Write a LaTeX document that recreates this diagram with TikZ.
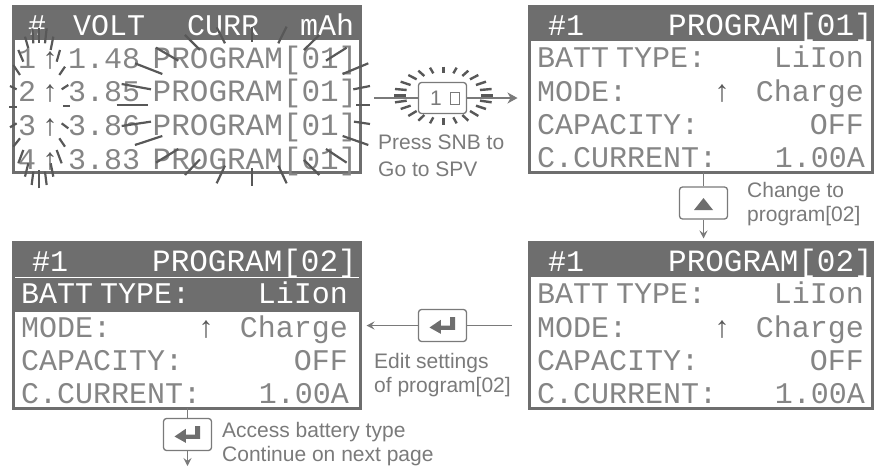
\documentclass[tikz,border=0pt]{standalone}
\usepackage{fontspec}
\setmainfont{Liberation Sans}
\newfontfamily\lcdfont{Liberation Mono}
\usetikzlibrary{arrows.meta}
\definecolor{lcddark}{HTML}{6E6E6E}
\definecolor{lcdtext}{HTML}{858585}
\definecolor{raygray}{HTML}{585858}
\definecolor{notegray}{HTML}{7A7A7A}
\tikzset{
    screen/.style={draw=lcddark, line width=3pt, inner sep=0pt, outer sep=0pt, anchor=north west, minimum height=165.5pt},
    lcd/.style={font=\lcdfont\fontsize{30}{32}\selectfont, text=lcdtext, inner sep=0pt, anchor=base west},
    lcdright/.style={lcd, anchor=base east},
    lcdhead/.style={lcd, text=white},
    lcdprog/.style={font=\lcdfont\fontsize{31}{32}\selectfont},
    lcdarrow/.style={lcd, font=\lcdfont\bfseries\fontsize{30}{32}\selectfont, text=raygray},
    key/.style={draw=notegray, line width=1.3pt, rounded corners=3pt, fill=white, minimum width=48pt, minimum height=32pt, inner sep=0pt},
    note/.style={font=\fontsize{21}{24}\selectfont, text=notegray, align=left, inner sep=0pt, anchor=north west},
    flow/.style={draw=notegray, line width=1.3pt},
    flowarrow/.style={flow, -{Stealth[length=8pt, width=8pt, inset=3pt]}},
    ray/.style={draw=raygray, line width=2.2pt},
    glyph/.style={fill=lcddark},
}
\begin{document}
\begin{tikzpicture}[x=1pt, y=-1pt]
    \def\returnsign#1{
        \fill[glyph, shift={(#1)}]
            (-13,2) -- (-1.7,-5.7) -- (-1.7,0) -- (7.5,0) -- (7.5,-8.3) -- (12.7,-8.3)
            -- (12.7,4.3) -- (-1.7,4.3) -- (-1.7,8.3) -- cycle;
    }

    \useasboundingbox (0,0) rectangle (874,466);

    %main view
    \node[screen, minimum width=347pt] (spv) at (13.5,6.5) {};
    \fill[lcddark] (12,5) rectangle (362,40);
    \node[lcdhead] (spvhash) at (28,35) {\#};
    \node[lcdhead] (spvvolt) at (73,35) {VOLT};
    \node[lcdhead] (spvcurr) at (187,35) {CURR};
    \node[lcdhead] (spvmah) at (300,35) {mAh};
    \foreach \row/\base/\volt in {1/68/1.48, 2/101/3.85, 3/135/3.86, 4/169/3.83} {
        \node[lcd] (chan\row) at (18,\base) {\row};
        \node[lcdarrow] (chanarrow\row) at (41,\base) {↑};
        \node[lcd] (chanvolt\row) at (68,\base) {\volt};
        \node[lcd, lcdprog] (chanprog\row) at (152.5,\base) {PROGRAM[01]};
    }

    %blinking rays over the main view
    \begin{scope}[scale=0.3333]
        \foreach \ax/\ay/\bx/\by in {
            97/85/100/130, 118/85/118/130, 140/85/135/130, 75/110/85/145, 160/110/152/150,
            55/150/70/185, 180/150/170/185, 40/195/60/225, 195/200/178/225, 30/258/50/268,
            205/255/185/268, 28/320/50/320, 190/318/210/318, 30/382/50/370, 205/385/185/370,
            40/440/60/415, 195/440/178/415, 55/490/70/450, 185/490/170/450, 75/530/85/490,
            160/530/152/490, 95/555/100/515, 118/565/118/510, 140/555/135/515,
            555/105/600/150, 650/82/675/130, 755/80/755/125, 860/80/835/130, 958/105/912/150,
            1040/143/978/182, 1105/190/1028/222, 1110/258/1060/268, 1110/315/1068/315,
            1110/372/1062/365, 1105/435/1028/408, 1040/488/978/447, 958/525/912/480,
            860/550/835/497, 755/558/755/505, 650/550/675/497, 555/525/600/478,
            468/488/535/447, 405/435/487/408, 365/378/453/365, 350/315/443/315,
            365/252/453/268, 405/190/487/222, 468/143/535/182
        } {
            \draw[ray] (\ax,\ay) -- (\bx,\by);
        }
    \end{scope}

    %program screens
    \foreach \name/\xx/\yy/\ww/\prog/\rowfill/\rowtext in {
        progone/528/5/346/01/white/lcdtext, progtwo/528/241/346/02/white/lcdtext, progedit/12/241/350/02/lcddark/white} {
        \begin{scope}[shift={(\xx,\yy)}]
            \fill[\rowfill] (0,37) rectangle (\ww,71);
            \node[screen, minimum width=\ww pt - 3pt] (\name) at (1.5,1.5) {};
            \fill[lcddark] (0,0) rectangle (\ww,35.5);
            \node[lcdhead] (\name hash) at (20,30) {\#1};
            \node[lcdhead, lcdprog, anchor=base east] (\name title) at (345,30) {PROGRAM[\prog]};
            \node[lcd, text=\rowtext] (\name batt) at (9,62) {BATT\hspace{-11pt} TYPE:};
            \node[lcdright, text=\rowtext] (\name type) at (336,62) {LiIon};
            \node[lcd] (\name mode) at (9,96) {MODE:};
            \node[lcdarrow] (\name arrow) at (185,96) {↑};
            \node[lcdright] (\name charge) at (336,96) {Charge};
            \node[lcd] (\name capacity) at (9,129) {CAPACITY:};
            \node[lcdright] (\name off) at (336,129) {OFF};
            \node[lcd] (\name current) at (9,162) {C.CURRENT:};
            \node[lcdright] (\name amps) at (337,162) {1.00A};
        \end{scope}
    }

    %blinking key
    \node[key, minimum height=31pt] (blinkkey) at (442.5,98) {};
    \node[font=\fontsize{21}{24}\selectfont, text=notegray, inner sep=0pt] (blinkdigit) at (436,98) {1};
    \node[draw=notegray, line width=1pt, minimum width=9pt, minimum height=12pt, inner sep=0pt] (blinkcursor) at (455,98) {};
    \coordinate (blinkstart) at (374,98);
    \draw[flow] (blinkstart) -- (blinkkey.west);
    \draw[flow, -{Stealth[length=10pt, width=11pt, inset=3pt]}, shorten >=12pt] (blinkkey.east) -- (blinkkey -| progone.west);
    \begin{scope}[shift={(340,40)}, scale=0.3333]
        \foreach \ax/\ay/\bx/\by in {
            310/80/310/98, 350/83/340/100, 385/92/367/108, 415/105/390/118, 438/125/408/135,
            455/147/420/150, 458/167/422/167, 455/187/420/182, 438/207/408/197, 415/228/390/213,
            385/242/367/225, 350/250/340/232, 310/255/310/235, 270/250/280/232, 235/242/253/225,
            205/228/230/213, 182/207/212/197, 165/187/200/182, 162/167/198/167, 165/147/200/150,
            182/125/212/135, 205/105/230/118, 235/92/253/108, 270/83/280/100
        } {
            \draw[ray, line width=2.4pt] (\ax,\ay) -- (\bx,\by);
        }
    \end{scope}
    \node[note] (pressnote) at (378,135) {Press SNB to\\[3pt]Go to SPV};

    %key to program 02
    \node[key] (upkey) at (703.5,203) {};
    \fill[glyph] ([shift={(0,-5)}]upkey.center) -- ([shift={(9.5,7)}]upkey.center) -- ([shift={(-9.5,7)}]upkey.center) -- cycle;
    \draw[flow] (upkey |- progone.south) -- (upkey.north);
    \draw[flowarrow, shorten >=4pt] (upkey.south) -- (upkey |- progtwo.north);
    \node[note] (changenote) at (747,182) {Change to\\program[02]};

    %key to edit
    \node[key] (editkey) at (442.5,325.5) {};
    \returnsign{editkey.center}
    \draw[flow, shorten <=18pt] (progtwo.west |- editkey) -- (editkey.east);
    \draw[flowarrow, shorten >=6pt] (editkey.west) -- (progedit.east |- editkey);
    \node[note] (editnote) at (374,353) {Edit settings\\of program[02]};

    %key to battery type
    \node[key] (accesskey) at (187.5,434.5) {};
    \returnsign{accesskey.center}
    \coordinate (nextpage) at (187.5,466);
    \draw[flow] (accesskey |- progedit.south) -- (accesskey.north);
    \draw[flowarrow] (accesskey.south) -- (nextpage);
    \node[note] (accessnote) at (222,422) {Access battery type\\Continue on next page};
\end{tikzpicture}
\end{document}
